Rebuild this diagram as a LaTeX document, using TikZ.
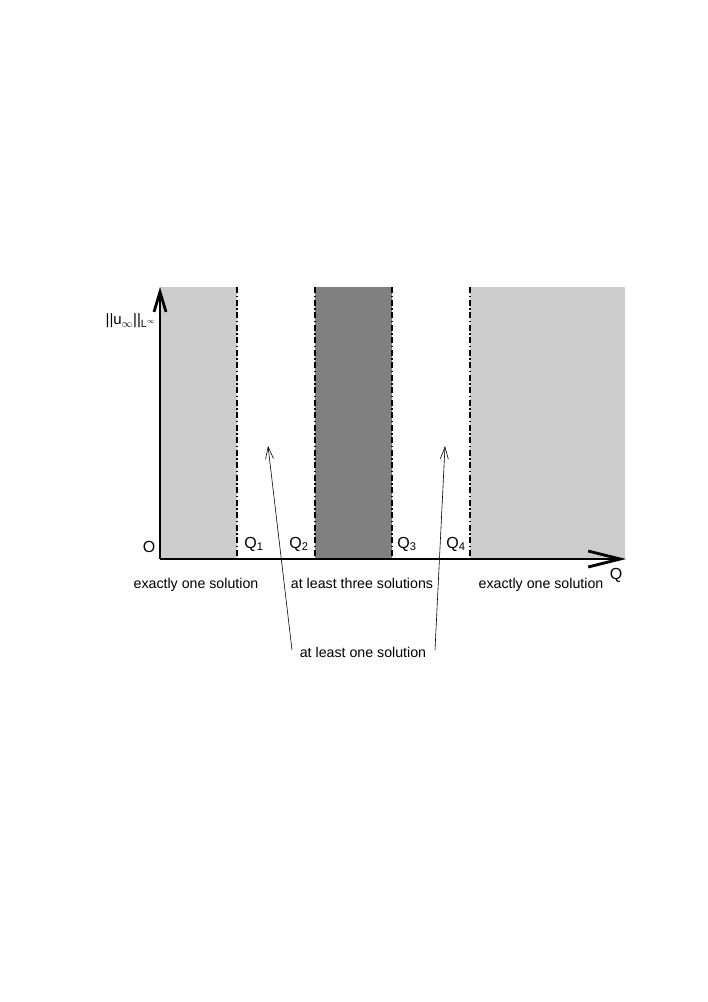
\documentclass[tikz,border=0pt]{standalone}
\usepackage{fontspec}
\setmainfont{Liberation Sans}
\usetikzlibrary{arrows.meta}
\definecolor{lightfill}{gray}{0.8}
\definecolor{darkfill}{gray}{0.5}
\begin{document}
\begin{tikzpicture}[x=1pt,y=-1pt,
  lbl/.style={font=\fontsize{14.2}{17}\selectfont, inner sep=0pt},
  txt/.style={lbl, anchor=base},
  qlbl/.style={anchor=base, inner sep=0pt, font=\fontsize{16}{19}\selectfont},
  sep/.style={line width=2.8pt, dash pattern=on 6pt off 2.5pt on 1.5pt off 2.5pt},
  axis/.style={line width=2.8pt},
  thin/.style={line width=0.6pt, -{Straight Barb[length=12pt,width=8pt,line width=0.6pt]}}]
\useasboundingbox (0,0) rectangle (708,1002);
% regions
\fill[lightfill] (160,287) rectangle (237,559);
\fill[darkfill] (315,287) rectangle (392,559);
\fill[lightfill] (470,287) rectangle (625,559);
% separators
\coordinate (s1t) at (237,287); \coordinate (s1b) at (237,559);
\coordinate (s2t) at (315,287); \coordinate (s2b) at (315,559);
\coordinate (s3t) at (392,287); \coordinate (s3b) at (392,559);
\coordinate (s4t) at (470,287); \coordinate (s4b) at (470,559);
\draw[sep] (s1t) -- (s1b);
\draw[sep] (s2t) -- (s2b);
\draw[sep] (s3t) -- (s3b);
\draw[sep] (s4t) -- (s4b);
% axes
\coordinate (o) at (160,559);
\coordinate (ytip) at (160,287);
\coordinate (xtip) at (626,559);
\draw[axis, -{Straight Barb[length=20pt,width=12pt,line width=2.8pt]}] (o) -- (ytip);
\draw[axis, -{Straight Barb[length=32pt,width=16pt,line width=2.8pt]}] (o) -- (xtip);
% labels
\node[lbl, anchor=east, font=\fontsize{15}{18}\selectfont] (ylab) at (156,321) {||u\textsubscript{$\infty$}||\textsubscript{L\textsuperscript{$\infty$}}};
\node[qlbl] (O) at (149,552) {O};
\node[qlbl] (q1) at (254,548) {Q\textsubscript{1}};
\node[qlbl] (q2) at (299,548) {Q\textsubscript{2}};
\node[qlbl] (q3) at (407,548) {Q\textsubscript{3}};
\node[qlbl] (q4) at (456,548) {Q\textsubscript{4}};
\node[qlbl] (Q) at (616,579) {Q};
\node[txt] (t1) at (196,588) {exactly one solution};
\node[txt] (t2) at (362,588) {at least three solutions};
\node[txt] (t3) at (541,588) {exactly one solution};
\node[txt] (t4) at (363,657) {at least one solution};
% pointer arrows
\coordinate (a1) at (268,446);
\coordinate (a2) at (445,446);
\coordinate (b1) at (292,650);
\coordinate (b2) at (435,650);
\draw[thin] (b1) -- (a1);
\draw[thin] (b2) -- (a2);
\end{tikzpicture}
\end{document}
